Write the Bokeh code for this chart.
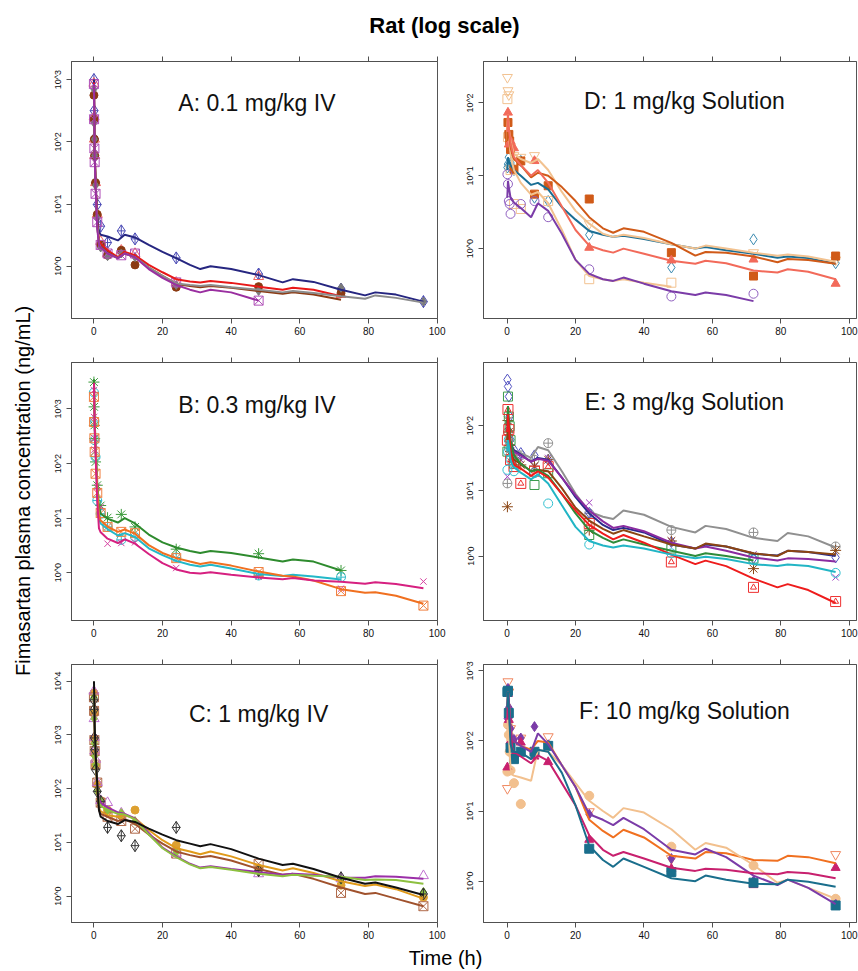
import math
from bokeh.plotting import figure
from bokeh.layouts import column, row
from bokeh.models import Range1d, FixedTicker, CustomJSTickFormatter, LinearAxis
from bokeh.embed import file_html
from bokeh.resources import INLINE
from bokeh.core.properties import value

N = None
X_TICKS = [0, 20, 40, 60, 80, 100]
T_FIT = [0.05, 0.25, 0.5, 1, 1.5, 2, 4, 7, 9, 12, 16, 20, 24, 28, 31, 34, 40, 48, 55, 58, 64, 72, 79, 82, 88, 96]
T_IV = [0.033, 0.083, 0.167, 0.25, 0.5, 0.75, 1, 2, 4, 8, 12, 24, 48, 72, 96]
T_PO = [0.083, 0.25, 0.5, 0.75, 1, 2, 4, 8, 12, 24, 48, 72, 96]

# ---- Panel A: 0.1 mg/kg IV ----
A_navy_obs = [1000, 316, 112, 60, 22, N, 9.8, 4.4, 2.4, 3.7, 2.75, 1.36, 0.75, 0.43, 0.27]
A_red_obs = [870, 250, 110, 60, 22, N, 6.8, 2.5, 1.6, 1.8, 1.6, 0.55, 0.68, 0.35, N]
A_brown_obs = [560, 230, 110, 60, 22, N, 6.8, 2.2, 1.5, 1.8, 1.05, 0.46, 0.47, 0.37, N]
A_gray_obs = [700, 200, 110, 60, 20, N, 6.0, 2.0, 1.45, 1.6, 1.4, 0.5, 0.4, 0.45, 0.27]
A_purple_obs = [850, 230, 78, 47, 14.6, N, 5.1, 2.2, 1.6, 1.5, 1.6, 0.55, 0.28, N, N]
A_navy_fit = [1000, 70, 25, 6, 3.6, 3.2, 3.0, 2.6, 3.2, 2.9, 2.2, 1.7, 1.35, 1.05, 0.9, 1.0, 0.9, 0.72, 0.55, 0.62, 0.56, 0.42, 0.34, 0.38, 0.35, 0.27]
A_red_fit = [900, 70, 25, 5, 2.6, 2.3, 1.8, 1.4, 1.7, 1.5, 1.05, 0.8, 0.62, 0.57, 0.55, 0.58, 0.54, 0.47, 0.42, 0.45, 0.42, 0.33, N, N, N, N]
A_brown_fit = [600, 65, 23, 4.5, 2.3, 2.1, 1.65, 1.35, 1.6, 1.4, 0.95, 0.7, 0.52, 0.48, 0.46, 0.48, 0.45, 0.40, 0.36, 0.38, 0.35, 0.29, N, N, N, N]
A_gray_fit = [700, 65, 23, 4.5, 2.3, 2.0, 1.6, 1.35, 1.6, 1.4, 0.95, 0.7, 0.53, 0.5, 0.48, 0.5, 0.46, 0.42, 0.38, 0.4, 0.37, 0.33, 0.3, 0.34, 0.31, 0.26]
A_purple_fit = [850, 60, 20, 4, 2.2, 2.0, 1.6, 1.35, 1.6, 1.4, 0.9, 0.65, 0.5, 0.42, 0.38, 0.42, 0.38, 0.28, N, N, N, N, N, N, N, N]

# ---- Panel B: 0.3 mg/kg IV ----
B_green_obs = [3100, 1090, 500, 286, 107, N, 40, 17, 10.2, 11.7, 6.9, 2.7, 2.23, 1.1, N]
B_cyan_obs = [2000, N, 600, 267, 132, N, 21, 12, 6.9, 4.0, 4.5, 1.9, 0.89, 0.83, N]
B_orange_obs = [1660, 576, 290, 163, 65, N, 29, 12.4, 6.9, 5.6, 5.3, 1.85, 1.03, 0.46, 0.25]
B_magenta_obs = [2200, 710, 290, 180, N, N, 37, 16, 3.4, 3.5, 3.6, 1.22, 0.85, 0.51, 0.69]
B_green_fit = [3500, 600, 250, 45, 16, 12, 9.8, 8.3, 10, 8, 5, 3.6, 2.9, 2.5, 2.3, 2.5, 2.3, 1.9, 1.6, 1.75, 1.6, 1.1, N, N, N, N]
B_orange_fit = [3000, 500, 200, 35, 11, 9, 7.0, 5.6, 6.2, 5.2, 3.2, 2.3, 1.85, 1.6, 1.45, 1.55, 1.35, 1.05, 0.88, 0.85, 0.72, 0.5, 0.43, 0.44, 0.38, 0.27]
B_cyan_fit = [2500, 450, 180, 30, 10, 8, 6.3, 4.8, 5.3, 4.5, 2.8, 2.1, 1.65, 1.4, 1.3, 1.4, 1.2, 0.95, 0.87, 0.92, 0.85, 0.75, N, N, N, N]
B_magenta_fit = [3000, 450, 150, 20, 6.5, 5.5, 4.2, 3.5, 4.1, 3.4, 2.2, 1.5, 1.15, 1.0, 0.97, 1.02, 0.92, 0.82, 0.76, 0.8, 0.72, 0.68, 0.63, 0.67, 0.62, 0.52]

# ---- Panel C: 1 mg/kg IV ----
C_black_obs = [4500, 2960, 880, 530, 225, N, 89, 58, 19, 13.3, 8.7, 19, 3.0, 2.2, 1.1]
C_gold_obs = [6000, 2500, 850, 450, 270, N, 120, 60, 40, 32, 40, 8.9, 3.3, 1.6, 0.95]
C_brown_obs = [5000, 2800, 800, 500, 280, N, 130, 55, 30, 25, 18, 6.2, 4.0, 1.15, 0.65]
C_purple_obs = [6500, 2000, 900, 500, 350, N, 130, 60, 55, 35, N, 6.3, 2.6, 2.1, 2.4]
C_green_obs = [5000, 2000, 700, 400, 280, N, 90, 60, 40, 35, 25, 6.5, 2.8, 2.0, 1.2]
C_black_fit = [10000, 1500, 500, 120, 40, 30, 25, 22, 26, 24, 18, 14, 11, 9.5, 8.5, 9.3, 7.5, 5.0, 3.8, 4.0, 3.2, 2.2, 1.7, 1.8, 1.45, 1.05]
C_gold_fit = [8000, 1200, 400, 100, 45, 38, 32, 30, 32, 28, 17, 11, 7.8, 6.8, 6.0, 6.8, 5.5, 3.8, 3.0, 3.3, 2.7, 1.9, 1.55, 1.65, 1.35, 0.9]
C_brown_fit = [7000, 1200, 400, 100, 40, 34, 30, 25, 27, 22, 14, 9.5, 6.8, 5.8, 5.3, 5.6, 4.6, 3.2, 2.5, 2.6, 2.1, 1.45, 1.1, 1.15, 0.9, 0.65]
C_purple_fit = [8000, 1300, 450, 120, 65, 55, 45, 36, 34, 28, 15, 8, 5.5, 4.0, 3.4, 3.6, 3.2, 2.8, 2.5, 2.6, 2.5, 2.2, 2.2, 2.35, 2.3, 2.1]
C_green_fit = [7000, 1200, 420, 110, 55, 48, 40, 34, 33, 27, 14, 7.8, 5.3, 3.9, 3.3, 3.5, 3.1, 2.6, 2.35, 2.5, 2.4, 2.3, 2.0, 2.05, 2.0, 1.7]

# ---- Panel D: 1 mg/kg Solution ----
D_teal_obs = [13, 14.5, 18, N, 15, 12, 16, 5.0, 4.5, 1.55, 0.55, 1.34, 0.63]
D_tanv_obs = [225, 148, 130, N, 25, 19, 18, 19, N, 2.2, N, 0.88, 0.7]
D_tans_obs = [113, 34, N, N, 12, 4.1, 3.5, N, 4.5, 0.38, 0.34, N, N]
D_orange_obs = [N, 54, 37, 30, 23, 12.3, 16, 5.6, 7.3, 4.8, 0.88, 0.42, 0.79]
D_salmon_obs = [N, 74, 27, N, 30, 24, N, 16, N, 1.03, 0.69, 0.71, 0.33]
D_purple_obs = [10.5, 7.7, 4.5, 4.1, 3.0, N, 4.1, 4.5, 2.7, 0.52, 0.22, 0.24, N]
D_teal_fit = [12, 18, 16, 14, 13, 12, 10, 7.5, 8, 6.5, 3.7, 2.5, 1.75, 1.55, 1.45, 1.5, 1.35, 1.15, 1.0, 1.05, 0.95, 0.85, 0.75, 0.78, 0.74, 0.62]
D_tanv_fit = [30, 60, 45, 30, 24, 20, 17, 15, 17, 12, 6, 3.3, 2.2, 1.6, 1.45, 1.55, 1.4, 1.15, 1.0, 1.1, 1.0, 0.88, 0.8, 0.83, 0.78, 0.66]
D_tans_fit = [40, 70, 40, 20, 15, 12, 8, 5.5, 6, 4.2, 1.8, 0.7, 0.42, 0.38, 0.36, 0.38, 0.34, 0.3, N, N, N, N, N, N, N, N]
D_orange_fit = [30, 50, 40, 25, 20, 17, 14, 9.5, 11, 10, 7, 4.5, 2.7, 1.9, 1.65, 1.9, 1.7, 1.2, 0.8, 0.9, 0.88, 0.78, 0.65, 0.72, 0.7, 0.62]
D_salmon_fit = [40, 70, 45, 28, 22, 18, 14, 10, 12, 8, 3.8, 1.8, 1.1, 0.95, 0.88, 1.0, 0.85, 0.68, 0.62, 0.68, 0.63, 0.5, 0.47, 0.52, 0.48, 0.38]
D_purple_fit = [5, 8.5, 7, 5, 4.6, 4.3, 3.6, 2.7, 4.2, 3.3, 1.6, 0.7, 0.45, 0.38, 0.36, 0.4, 0.33, 0.26, 0.23, 0.25, 0.23, 0.19, N, N, N, N]

# ---- Panel E: 3 mg/kg Solution ----
E_gray_obs = [13, 80, 45, N, 35, 30, 35, 30, 54, 4.5, 2.5, 2.3, 1.4]
E_navy_obs = [510, 400, 280, 139, 61, 43, 38, 35, 30, 4.6, 1.64, 0.93, 0.95]
E_purple_obs = [16.5, 98, 60, 50, 45, 35, 30, 23.5, 32, 6.6, 1.7, 1.06, 0.47]
E_brown_obs = [5.7, 120, 80, 50, 40, 28, 25, 24, 30, 2.5, 1.7, 0.64, 1.22]
E_green_obs = [40, 280, 138, 98, 60, 26, N, 12.3, 18.6, 2.1, 1.3, 0.91, N]
E_red_obs = [60, 177, 87, N, 30, 23.6, 13, 20, 23.5, 3.15, 0.81, 0.33, 0.2]
E_cyan_obs = [21, 40, 61, N, 30, 20, N, 18.7, 6.4, 1.5, 1.1, 0.88, 0.55]
E_gray_fit = [40, 90, 70, 50, 45, 42, 38, 32, 47, 42, 20, 9, 4.8, 4.0, 3.7, 5.0, 4.3, 2.8, 2.3, 2.9, 2.6, 1.9, 1.7, 2.25, 2.0, 1.35]
E_navy_fit = [100, 150, 110, 55, 47, 42, 36, 28, 32, 30, 16, 8, 4.5, 3.0, 2.5, 2.7, 2.3, 1.5, 1.3, 1.5, 1.4, 1.08, 1.02, 1.2, 1.15, 1.0]
E_purple_fit = [80, 120, 90, 50, 44, 40, 35, 28, 31, 29, 16, 8.5, 5.0, 3.4, 2.7, 2.9, 2.4, 1.6, 1.3, 1.4, 1.2, 0.95, 0.85, 0.92, 0.9, 0.82]
E_brown_fit = [60, 110, 80, 40, 34, 30, 26, 20, 21, 20, 11, 5.5, 3.5, 2.6, 2.2, 2.5, 2.0, 1.5, 1.3, 1.55, 1.4, 1.1, 1.0, 1.2, 1.15, 1.05]
E_green_fit = [100, 200, 130, 60, 45, 35, 26, 20, 21, 17, 9, 4.5, 2.5, 1.9, 1.6, 1.8, 1.5, 1.2, 1.0, 1.1, 1.0, 0.85, N, N, N, N]
E_red_fit = [80, 150, 100, 40, 30, 25, 22, 17, 20, 16, 9, 5, 3.0, 2.2, 1.8, 2.1, 1.6, 1.05, 0.75, 0.85, 0.7, 0.45, 0.33, 0.37, 0.3, 0.19]
E_cyan_fit = [40, 60, 50, 30, 25, 23, 19, 15, 18, 13, 6, 2.8, 1.7, 1.45, 1.35, 1.45, 1.3, 1.05, 0.92, 0.97, 0.9, 0.75, 0.7, 0.74, 0.7, 0.57]

# ---- Panel F: 10 mg/kg Solution ----
F_orange_obs = [21, 700, 500, N, 150, N, 110, N, 115, 9.8, 2.1, N, 2.4]
F_tan_obs = [36.5, 170, 122, 70, 38, 25, 12.6, 67, N, 16.5, 3.1, 1.67, 0.56]
F_purple_obs = [210, 560, 300, 220, 150, 105, 110, 160, 88, 9, 2.1, 1.0, 0.47]
F_magenta_obs = [42, 470, 200, N, 100, 63, 95, 60, 50, 3.9, 1.5, 0.88, 1.55]
F_teal_obs = [500, 520, 250, N, 80, 55, 70, 70, 85, 2.9, 1.35, 0.95, 0.45]
F_orange_fit = [300, 500, 400, 150, 110, 100, 85, 75, 100, 95, 45, 22, 7.5, 5.2, 4.2, 5.4, 4.2, 2.3, 2.1, 2.6, 2.5, 2.0, 1.95, 2.3, 2.2, 1.8]
F_tan_fit = [100, 300, 120, 40, 33, 32, 30, 27, 75, 70, 45, 25, 14, 10, 8, 11, 9.5, 5.5, 2.8, 3.5, 3.0, 1.7, 0.95, 1.05, 0.8, 0.56]
F_purple_fit = [300, 500, 400, 150, 110, 100, 85, 70, 128, 90, 45, 22, 9, 7.5, 6.3, 8.0, 5.5, 2.8, 2.4, 2.9, 2.2, 1.2, 0.88, 1.05, 0.8, 0.47]
F_magenta_fit = [200, 400, 300, 120, 80, 70, 60, 48, 62, 52, 25, 12, 4.5, 2.8, 2.3, 2.6, 2.1, 1.55, 1.4, 1.5, 1.45, 1.3, 1.25, 1.35, 1.3, 1.1]
F_teal_fit = [300, 500, 300, 90, 75, 70, 68, 55, 75, 70, 35, 12, 3.2, 2.0, 1.6, 2.1, 1.6, 1.1, 1.0, 1.2, 1.05, 0.92, 0.9, 1.05, 0.98, 0.83]

FONT = "Liberation Sans"


def style_axis(ax, fsize):
    ax.axis_line_color = "#505050"
    ax.major_tick_line_color = "#505050"
    ax.minor_tick_line_color = None
    ax.major_tick_out = 5
    ax.major_tick_in = 0
    ax.major_label_text_font = FONT
    ax.major_label_text_font_size = fsize
    ax.major_label_text_color = "#111111"
    ax.major_label_standoff = 3


def panel(width, height, mbl, mbr, mbt, mbb, xr, ylog, yticks, title, tx, tylog, t_obs, series):
    p = figure(width=width, height=height, x_range=Range1d(*xr),
               y_range=Range1d(10 ** ylog[0], 10 ** ylog[1]), y_axis_type="log",
               toolbar_location=None, output_backend="svg", title=None,
               min_border_left=mbl, min_border_right=mbr,
               min_border_top=mbt, min_border_bottom=mbb)
    p.xgrid.visible = False
    p.ygrid.visible = False
    p.outline_line_color = "#555555"
    p.background_fill_color = "white"
    p.xaxis.ticker = FixedTicker(ticks=X_TICKS)
    p.yaxis.ticker = FixedTicker(ticks=yticks)
    p.yaxis.formatter = CustomJSTickFormatter(code="return '10^' + Math.round(Math.log10(tick));")
    p.yaxis.major_label_orientation = "vertical"
    for ax in p.xaxis:
        style_axis(ax, "10px")
    for ax in p.yaxis:
        style_axis(ax, "9px")
    top = LinearAxis(ticker=FixedTicker(ticks=X_TICKS),
                     formatter=CustomJSTickFormatter(code="return '';"))
    style_axis(top, "1px")
    p.add_layout(top, "above")

    for obs, fit, lcol, marker, mcol, filled, size in series:
        xs = [t for t, v in zip(t_obs, obs) if v is not None]
        ys = [v for v in obs if v is not None]
        markers = ["square", "triangle"] if marker == "square_tri" else [marker]
        for k, mk in enumerate(markers):
            p.scatter(xs, ys, marker=mk, size=size if k == 0 else size - 4,
                      line_color=mcol, line_width=1,
                      fill_color=mcol if filled else None)
    for obs, fit, lcol, marker, mcol, filled, size in series:
        fy = [float("nan") if v is None else v for v in fit]
        p.line(T_FIT, fy, line_color=lcol, line_width=2)

    p.text(x=[tx], y=[10 ** tylog], text=[title], text_font=value(FONT),
           text_font_size="23px", text_align="center", text_baseline="middle",
           text_color="#111111")
    return p


XL = (-6.5, 100.1)
XR = (-6.9, 102.1)
WL, WR = 408, 412
ML, MRL = 33, 9
MR, MRR = 37, 2
H1, H2, H3 = 296, 302, 302

pA = panel(WL, H1, ML, MRL, 17, 22, XL, (-0.84, 3.29), [1, 10, 100, 1000],
           "A: 0.1 mg/kg IV", 47.5, 2.62, T_IV, [
               (A_navy_obs, A_navy_fit, "#262680", "diamond_cross", "#4A4AB5", False, 12),
               (A_red_obs, A_red_fit, "#E81818", "triangle", "#F06060", False, 10),
               (A_brown_obs, A_brown_fit, "#8B3A12", "circle", "#8B3A12", True, 8),
               (A_gray_obs, A_gray_fit, "#8C8C8C", "diamond", "#7A7A7A", True, 9),
               (A_purple_obs, A_purple_fit, "#9A2FA0", "square_x", "#B050B8", False, 9),
           ])
pB = panel(WL, H2, ML, MRL, 22, 22, XL, (-0.875, 3.85), [1, 10, 100, 1000],
           "B: 0.3 mg/kg IV", 47.5, 3.07, T_IV, [
               (B_green_obs, B_green_fit, "#2E8B2E", "asterisk", "#3A9A3A", False, 11),
               (B_cyan_obs, B_cyan_fit, "#22B8C8", "circle_cross", "#30B8C8", False, 9),
               (B_orange_obs, B_orange_fit, "#F07020", "square_x", "#F08040", False, 9),
               (B_magenta_obs, B_magenta_fit, "#D62080", "x", "#D640A0", False, 9),
           ])
pC = panel(WL, H3, ML, MRL, 22, 22, XL, (-0.49, 4.31), [1, 10, 100, 1000, 10000],
           "C: 1 mg/kg IV", 48.0, 3.38, T_IV, [
               (C_gold_obs, C_gold_fit, "#E09A1A", "circle", "#DDA030", True, 8),
               (C_brown_obs, C_brown_fit, "#A0522D", "square_x", "#B06A4A", False, 9),
               (C_purple_obs, C_purple_fit, "#9B2FA8", "triangle", "#C070D0", False, 10),
               (C_green_obs, C_green_fit, "#8DC040", "diamond", "#8DC040", True, 9),
               (C_black_obs, C_black_fit, "#111111", "diamond_cross", "#333333", False, 12),
           ])
pD = panel(WR, H1, MR, MRR, 17, 22, XR, (-0.96, 2.57), [1, 10, 100],
           "D: 1 mg/kg Solution", 51.8, 2.03, T_PO, [
               (D_teal_obs, D_teal_fit, "#1A6E94", "diamond", "#3A8AB0", False, 11),
               (D_tanv_obs, D_tanv_fit, "#F2C290", "inverted_triangle", "#F2C290", False, 10),
               (D_tans_obs, D_tans_fit, "#F2C290", "square", "#F2C290", False, 9),
               (D_orange_obs, D_orange_fit, "#D05A18", "square", "#D05A18", True, 8),
               (D_salmon_obs, D_salmon_fit, "#F26A5A", "triangle", "#F26A5A", True, 9),
               (D_purple_obs, D_purple_fit, "#7B3CA8", "circle", "#9060C0", False, 9),
           ])
pE = panel(WR, H2, MR, MRR, 22, 22, XR, (-0.99, 2.97), [1, 10, 100],
           "E: 3 mg/kg Solution", 51.8, 2.36, T_PO, [
               (E_gray_obs, E_gray_fit, "#909090", "circle_cross", "#909090", False, 9),
               (E_navy_obs, E_navy_fit, "#2B2B8C", "diamond", "#5050C0", False, 11),
               (E_purple_obs, E_purple_fit, "#8A2BA0", "x", "#A040C0", False, 9),
               (E_brown_obs, E_brown_fit, "#8B4513", "asterisk", "#8B4513", False, 11),
               (E_green_obs, E_green_fit, "#2E8B3A", "square", "#3A9A4A", False, 9),
               (E_red_obs, E_red_fit, "#EE1C1C", "square_tri", "#EE3030", False, 10),
               (E_cyan_obs, E_cyan_fit, "#22B5C5", "circle", "#30C0D0", False, 9),
           ])
pF = panel(WR, H3, MR, MRR, 22, 22, XR, (-0.59, 3.09), [1, 10, 100, 1000],
           "F: 10 mg/kg Solution", 51.8, 2.43, T_PO, [
               (F_orange_obs, F_orange_fit, "#F07020", "inverted_triangle", "#F08860", False, 10),
               (F_tan_obs, F_tan_fit, "#F2C08E", "circle", "#F2C08E", True, 9),
               (F_purple_obs, F_purple_fit, "#7B3CA8", "diamond", "#7B3CA8", True, 10),
               (F_magenta_obs, F_magenta_fit, "#C8206E", "triangle", "#C8206E", True, 9),
               (F_teal_obs, F_teal_fit, "#1A6E8C", "square", "#1A6E8C", True, 9),
           ])


def text_fig(width, height, txt, tx, ty, size, bold=False, angle=0.0):
    f = figure(width=width, height=height, x_range=Range1d(0, 1), y_range=Range1d(0, 1),
               x_axis_type=None, y_axis_type=None, toolbar_location=None,
               output_backend="svg", title=None, min_border=0)
    f.outline_line_color = None
    f.text(x=[tx], y=[ty], text=[txt], text_font=value(FONT), text_font_size=size,
           text_font_style="bold" if bold else "normal", angle=angle,
           text_align="center", text_baseline="middle", text_color="#000000")
    return f


TOTAL_W = 38 + WL + WR
title_fig = text_fig(TOTAL_W, 44, "Rat (log scale)", 444 / TOTAL_W, 0.43, "22px", bold=True)
ylab_fig = text_fig(38, H1 + H2 + H3, "Fimasartan plasma concentration (ng/mL)", 0.58, 0.504,
                    "20px", angle=math.pi / 2)
xlab_fig = text_fig(TOTAL_W, 26, "Time (h)", 445 / TOTAL_W, 0.5, "20px")

grid = column(row(pA, pD), row(pB, pE), row(pC, pF))
layout = column(title_fig, row(ylab_fig, grid), xlab_fig)

open("out.html", "w").write(file_html(layout, INLINE, "Rat (log scale)"))
